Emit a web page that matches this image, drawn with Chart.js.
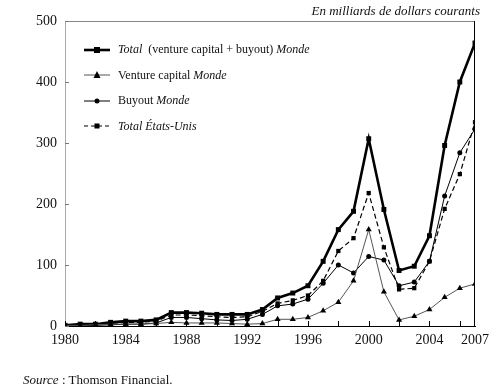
<!DOCTYPE html>
<html>
<head>
<meta charset="utf-8">
<script src="https://cdn.jsdelivr.net/npm/chart.js@4.4.1/dist/chart.umd.min.js"></script>
<style>
  body { margin: 0; background: #fff; font-family: "Liberation Serif", "DejaVu Serif", serif; color: #111; }
  #wrap { position: relative; width: 495px; height: 390px; }
  #c { position: absolute; left: 0; top: 0; }
  .title { position: absolute; right: 15px; top: 3px; font-size: 13px; font-style: italic; }
  .source { position: absolute; left: 23px; top: 372px; font-size: 13px; }
  .legend { position: absolute; left: 84px; top: 37px; font-size: 12px; }
  .legend .item { height: 25.5px; display: flex; align-items: center; }
  .legend svg { margin-right: 8px; }
</style>
</head>
<body>
<div id="wrap">
  <canvas id="c" width="495" height="390"></canvas>
  <div class="title">En milliards de dollars courants</div>
  <div class="legend">
    <div class="item"><svg width="26" height="10"><line x1="0" y1="5" x2="26" y2="5" stroke="#000" stroke-width="2.6"/><rect x="10" y="2" width="6" height="6" fill="#000"/></svg><span><i>Total</i>&nbsp; (venture capital + buyout) <i>Monde</i></span></div>
    <div class="item"><svg width="26" height="10"><line x1="0" y1="5" x2="26" y2="5" stroke="#555" stroke-width="1"/><polygon points="13,1 16.5,8 9.5,8" fill="#000"/></svg><span>Venture capital <i>Monde</i></span></div>
    <div class="item"><svg width="26" height="10"><line x1="0" y1="5" x2="26" y2="5" stroke="#000" stroke-width="1"/><circle cx="13" cy="5" r="2.5" fill="#000"/></svg><span>Buyout <i>Monde</i></span></div>
    <div class="item"><svg width="26" height="10"><line x1="0" y1="5" x2="26" y2="5" stroke="#000" stroke-width="1.2" stroke-dasharray="4,3"/><rect x="10.5" y="2.5" width="5" height="5" fill="#000"/></svg><span><i>Total États-Unis</i></span></div>
  </div>
  <div class="source"><i>Source</i> : Thomson Financial.</div>
</div>
<script>
// Private equity raised, 1980-2007, billions of current dollars
var years = [1980, 1981, 1982, 1983, 1984, 1985, 1986, 1987, 1988, 1989, 1990, 1991, 1992, 1993,
             1994, 1995, 1996, 1997, 1998, 1999, 2000, 2001, 2002, 2003, 2004, 2005, 2006, 2007];
var totalMonde = [1, 3, 3, 6, 8, 8, 10, 22, 22, 21, 19, 19, 19, 27,
                  46, 54, 66, 106, 158, 188, 307, 191, 91, 98, 148, 296, 400, 464];
var ventureMonde = [1, 1, 2, 3, 3, 3, 4, 6, 5, 5, 5, 4, 3, 4,
                    11, 11, 14, 25, 39, 74, 158, 56, 10, 16, 27, 47, 62, 69];
var buyoutMonde = [0, 1, 1, 2, 3, 3, 5, 14, 14, 12, 10, 9, 11, 19,
                   33, 36, 44, 70, 100, 87, 114, 108, 66, 72, 106, 213, 284, 323];
var totalUS = [1, 2, 2, 4, 6, 6, 8, 18, 18, 17, 15, 14, 15, 24,
               37, 42, 50, 74, 123, 144, 218, 129, 60, 62, 106, 192, 249, 334];
var xLabels = [1980, 1984, 1988, 1992, 1996, 2000, 2004, 2007];
var yTicks = [0, 100, 200, 300, 400, 500];

function pts(vals) {
  return vals.map(function (v, i) { return { x: years[i], y: v }; });
}

// top/right frame + inward tick marks
var framePlugin = {
  id: 'frame',
  afterDraw: function (chart) {
    var ctx = chart.ctx, a = chart.chartArea;
    var xs = chart.scales.x, ys = chart.scales.y;
    ctx.save();
    ctx.lineWidth = 1;
    ctx.strokeStyle = '#888';
    ctx.beginPath(); ctx.moveTo(a.left, a.top + 0.5); ctx.lineTo(a.right, a.top + 0.5); ctx.stroke();
    ctx.strokeStyle = '#000';
    ctx.beginPath(); ctx.moveTo(a.right - 0.5, a.top); ctx.lineTo(a.right - 0.5, a.bottom); ctx.stroke();
    ctx.beginPath();
    for (var yr = 1980; yr <= 2006; yr += 2) {
      var px = Math.round(xs.getPixelForValue(yr)) + 0.5;
      ctx.moveTo(px, a.bottom); ctx.lineTo(px, a.bottom - 5);
    }
    ctx.stroke();
    ctx.strokeStyle = '#777';
    ctx.beginPath();
    yTicks.forEach(function (v) {
      var py = Math.round(ys.getPixelForValue(v)) + 0.5;
      ctx.moveTo(a.left, py); ctx.lineTo(a.left + 4, py);
    });
    ctx.stroke();
    ctx.restore();
  }
};

new Chart(document.getElementById('c'), {
  type: 'line',
  data: {
    datasets: [
      { label: 'Venture capital Monde', data: pts(ventureMonde), borderColor: '#555', borderWidth: 1,
        pointStyle: 'triangle', pointRadius: 3.5, pointBackgroundColor: '#000', pointBorderColor: '#000', pointBorderWidth: 0 },
      { label: 'Buyout Monde', data: pts(buyoutMonde), borderColor: '#000', borderWidth: 1,
        pointStyle: 'circle', pointRadius: 2.5, pointBackgroundColor: '#000', pointBorderWidth: 0 },
      { label: 'Total États-Unis', data: pts(totalUS), borderColor: '#000', borderWidth: 1.2, borderDash: [5, 3],
        pointStyle: 'rect', pointRadius: 3, pointBackgroundColor: '#000', pointBorderWidth: 0 },
      { label: 'Total (venture capital + buyout) Monde', data: pts(totalMonde), borderColor: '#000', borderWidth: 2.6,
        pointStyle: 'rect', pointRadius: 3.5, pointBackgroundColor: '#000', pointBorderWidth: 0 }
    ]
  },
  options: {
    responsive: false, animation: false,
    layout: { padding: { top: 21, right: 15, left: 0, bottom: 0 } },
    plugins: { legend: { display: false }, tooltip: { enabled: false } },
    elements: { line: { tension: 0 } },
    scales: {
      x: {
        type: 'linear', min: 1980, max: 2007,
        afterBuildTicks: function (s) { s.ticks = xLabels.map(function (v) { return { value: v }; }); },
        afterFit: function (s) { s.height = 64; },
        grid: { display: false, drawTicks: false },
        border: { color: '#000', width: 1 },
        ticks: { color: '#111', padding: 6, maxRotation: 0, autoSkip: false,
                 font: { family: 'Liberation Serif', size: 14 },
                 callback: function (v) { return String(v); } }
      },
      y: {
        min: 0, max: 500,
        afterBuildTicks: function (s) { s.ticks = yTicks.map(function (v) { return { value: v }; }); },
        afterFit: function (s) { s.width = 65; },
        grid: { display: false, drawTicks: false },
        border: { color: '#aaa', width: 1 },
        ticks: { color: '#111', padding: 8, font: { family: 'Liberation Serif', size: 14 } }
      }
    }
  },
  plugins: [framePlugin]
});
</script>
</body>
</html>
